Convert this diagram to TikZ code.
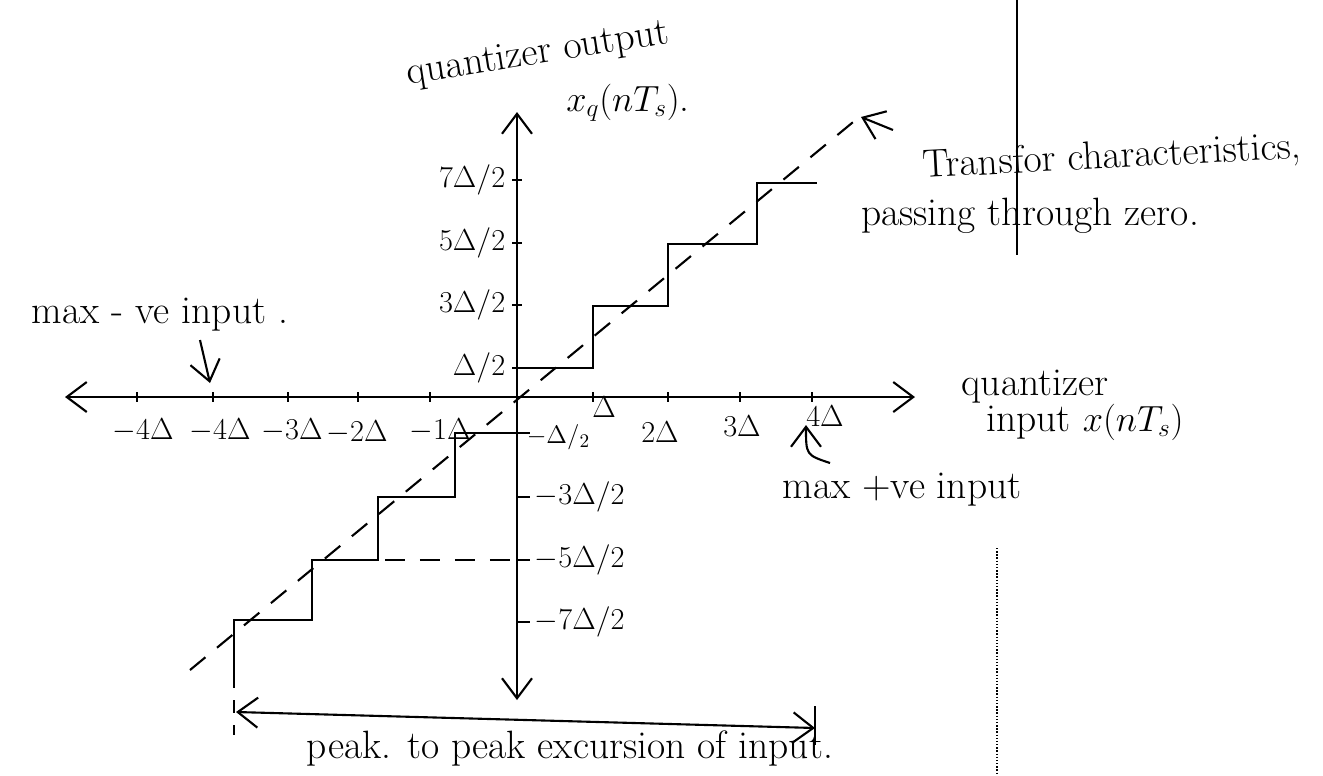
\documentclass[tikz,border=0pt]{standalone}
\usetikzlibrary{arrows.meta}
\begin{document}
\begin{tikzpicture}[x=0.02cm,y=-0.02cm,line width=1.2pt,
  >={Straight Barb[length=4mm,width=6mm]},
  txt/.style={font=\fontsize{22.5}{27}\selectfont,inner sep=1pt},
  val/.style={font=\fontsize{17}{20}\selectfont,inner sep=1pt},
  dsh/.style={dash pattern=on 0.4cm off 0.3cm}]
\useasboundingbox (0,0) rectangle (1323,775);
% axes
\coordinate (O) at (517,397);
\coordinate (xL) at (65,397);
\coordinate (xR) at (915,397);
\coordinate (yT) at (517,112);
\coordinate (yB) at (517,700);
\draw[<->] (xL) -- (xR);
\draw[<->] (yT) -- (yB);
\foreach \x in {137,213,288,358,430,593,668,740,812}
  \draw (\x,392) -- (\x,402);
\foreach \y in {180,243,305,368}
  \draw (512,\y) -- (522,\y);
\foreach \y in {433,497,560,622}
  \draw (517,\y) -- (530,\y);
% staircase
\draw (517,368) -| (593,306) -| (668,244) -| (757,183) -- (817,183);
\draw (517,433) -| (455,497) -| (378,560) -| (312,620) -| (234,675);
\draw[dash pattern=on 0.25cm off 0.25cm] (234,675) -- (234,735);
\draw[dsh] (385,560) -- (517,560);
\draw[dsh] (190,670) -- (858,118);
% axis values
\node[val,anchor=east] (p7) at (508,180) {$7\Delta/2$};
\node[val,anchor=east] (p5) at (508,243) {$5\Delta/2$};
\node[val,anchor=east] (p3) at (508,305) {$3\Delta/2$};
\node[val,anchor=east] (p1) at (508,368) {$\Delta/2$};
\node[val,anchor=west,font=\fontsize{15}{18}\selectfont] (m1) at (524,437) {$-\Delta/_{2}$};
\node[val,anchor=west] (m3) at (532,497) {$-3\Delta/2$};
\node[val,anchor=west] (m5) at (532,560) {$-5\Delta/2$};
\node[val,anchor=west] (m7) at (532,622) {$-7\Delta/2$};
\node[val] (d1) at (604,407) {$\Delta$};
\node[val] (d2) at (660,432) {$2\Delta$};
\node[val] (d3) at (742,426) {$3\Delta$};
\node[val] (d4) at (825,416) {$4\Delta$};
\node[val] (e5) at (143,430) {$-4\Delta$};
\node[val] (e4) at (220,430) {$-4\Delta$};
\node[val] (e3) at (292,430) {$-3\Delta$};
\node[val] (e2) at (357,432) {$-2\Delta$};
\node[val] (e1) at (440,430) {$-1\Delta$};
% labels
\node[txt,rotate=9] (qout) at (538,55) {quantizer output};
\node[txt] (xq) at (628,103) {$x_q(nT_s)$.};
\node[txt,rotate=3] (tc) at (1112,158) {Transfor characteristics,};
\node[txt] (pz) at (1030,216) {passing through zero.};
\node[txt] (mneg) at (160,315) {max - ve input .};
\node[txt] (qin) at (1035,387) {quantizer};
\node[txt] (inx) at (1085,422) {input $x(nT_s)$};
\node[txt] (mpos) at (902,490) {max +ve input};
\node[txt] (pp) at (570,748) {peak. to peak excursion of input.};
% pointers
\coordinate (tcA) at (893,130);
\coordinate (tcB) at (861,117);
\draw[->] (tcA) -- (tcB);
\coordinate (mnA) at (200,340);
\coordinate (mnB) at (210,383);
\draw[->] (mnA) -- (mnB);
\coordinate (mpA) at (830,463);
\coordinate (mpB) at (806,425);
\draw[->] (mpA) .. controls (806,455) .. (mpB);
\coordinate (pL) at (236,712);
\coordinate (pR) at (815,728);
\draw[<->] (pR) -- (pL);
\draw (815,706) -- (815,745);
% page margin lines
\draw[line width=0.8pt] (1017,0) -- (1017,255);
\draw[line width=0.8pt,densely dotted] (997,548) -- (997,775);
\end{tikzpicture}
\end{document}
